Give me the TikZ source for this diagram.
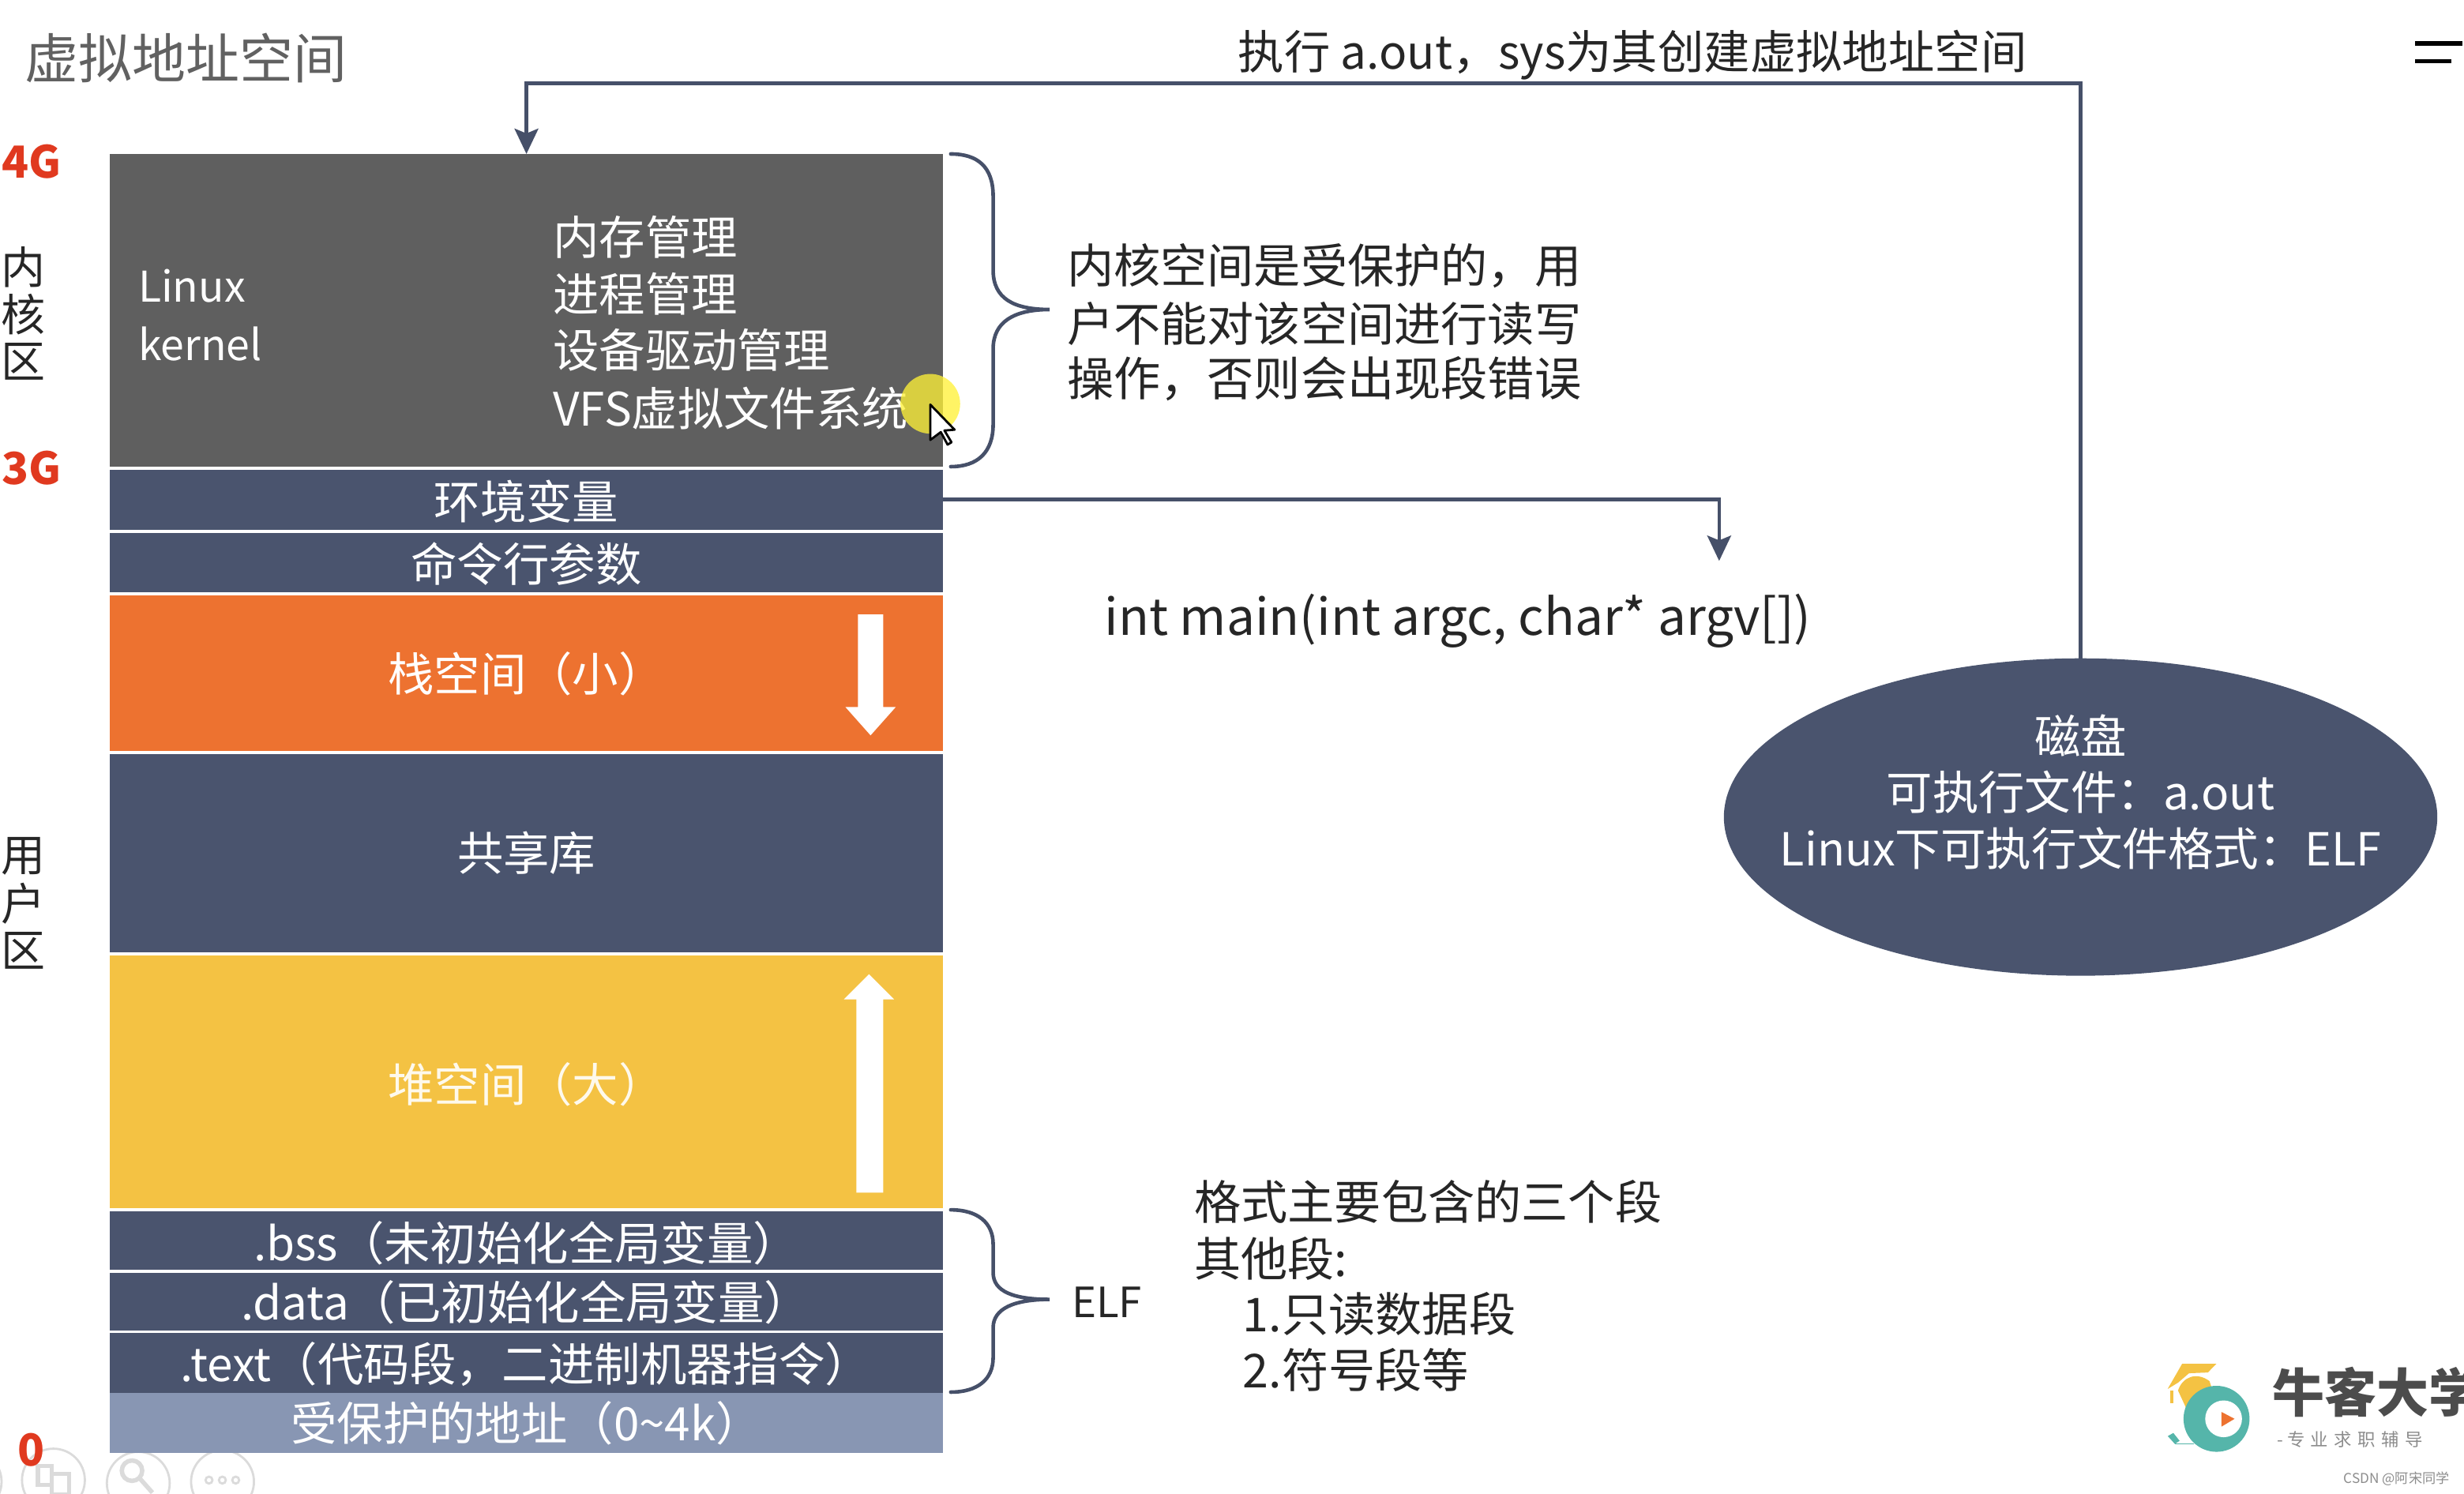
\documentclass[tikz,border=0pt]{standalone}
\usepackage{fontspec}
\setmainfont{Noto Sans CJK SC}
\usetikzlibrary{arrows.meta,shapes.geometric}
\definecolor{navy}{HTML}{4A546E}
\definecolor{kern}{HTML}{5F5F5F}
\definecolor{orng}{HTML}{ED7230}
\definecolor{yell}{HTML}{F4C243}
\definecolor{pale}{HTML}{8896B3}
\definecolor{redd}{HTML}{E0391F}
\definecolor{linec}{HTML}{465069}
\definecolor{ink}{HTML}{262626}
\definecolor{teal2}{HTML}{55B5AA}
\definecolor{spot}{RGB}{255,241,55}
\newcommand{\fs}[1]{\fontsize{#1}{#1}\selectfont}
\tikzset{
  H/.style={minimum height=#1*0.4975pt},
  seg/.style={minimum width=263.7pt,inner sep=0pt,outer sep=0pt,text=white,font=\fs{14.6}},
  lab/.style={inner sep=0pt,outer sep=0pt,anchor=west,text=ink,font=\fs{14.8}},
  wlab/.style={inner sep=0pt,outer sep=0pt,text=white,font=\fs{14.6}},
  wlabl/.style={wlab,anchor=west},
  addr/.style={inner sep=0pt,text=redd,font=\fs{14}\bfseries},
  side/.style={inner sep=0pt,text=ink,font=\fs{14}},
  conn/.style={draw=linec,line width=1.15pt},
  brace/.style={draw=linec,line width=1.15pt,line cap=round},
  tip/.style={-{Stealth[length=8pt,width=7.5pt,inset=1.5pt]}},
  toolc/.style={draw=black!14,line width=0.7pt},
}
\begin{document}
\begin{tikzpicture}[x=0.4975pt,y=-0.4975pt]
\useasboundingbox (0,0) rectangle (1568,950.7);
% toolbar remnants
\draw[toolc] (-19,943) circle (20);
\draw[toolc] (34,942) circle (20);
\draw[toolc] (88,944) circle (20);
\draw[toolc] (141.6,943) circle (20);
\draw[toolc,line width=1.4pt] (24,933) rectangle (33,945) (33,938) rectangle (44,951);
\draw[toolc,line width=1.4pt] (84,936) circle (6.5) (89,941) -- (97,950);
\foreach \d in {133,141.5,150} \draw[toolc] (\d,942) circle (2.2);
% segments
\node[seg,H=199,fill=kern] (kernel) at (335,197.5) {};
\node[seg,H=38,fill=navy] (env) at (335,318) {};
\node[seg,H=38,fill=navy] (args) at (335,358) {};
\node[seg,H=99,fill=orng] (stack) at (335,428.5) {};
\node[seg,H=126,fill=navy] (shared) at (335,543) {};
\node[seg,H=161,fill=yell] (heap) at (335,688.5) {};
\node[seg,H=37,fill=navy] (bss) at (335,789.5) {};
\node[seg,H=37,fill=navy] (data) at (335,828.5) {};
\node[seg,H=38,fill=navy] (text) at (335,867.5) {};
\node[seg,H=38,fill=pale] (prot) at (335,905.5) {};
% labels in segments
\node[wlab] (lEnv) at (335,319) {环境变量};
\node[wlab] (lArgs) at (335,359) {命令行参数};
\node[wlab] (lShared) at (335,543) {共享库};
\node[wlab] (lStack) at (335,429) {栈空间（小）};
\node[wlab,text=white!90!yell] (lHeap) at (335,690) {堆空间（大）};
\node[wlab] (lBss) at (335,791) {.bss（未初始化全局变量）};
\node[wlab] (lData) at (334.5,829) {.data（已初始化全局变量）};
\node[wlab] (lText) at (334.5,868) {.text（代码段，二进制机器指令）};
\node[wlab] (lProt) at (335,906) {受保护的地址（0\textasciitilde 4k）};
\node[wlabl,font=\fs{13.4}] (lLinux) at (88,182) {Linux};
\node[wlabl,font=\fs{13.4}] (lKernel) at (88,219) {kernel};
\node[wlabl] (k1) at (352,151) {内存管理};
\node[wlabl] (k2) at (352,187) {进程管理};
\node[wlabl] (k3) at (352,223) {设备驱动管理};
\node[wlabl] (k4) at (352,260) {VFS虚拟文件系统};
% white arrows
\fill[white] (546,391) -- (562,391) -- (562,450) -- (570,450) -- (554,468) -- (538,450) -- (546,450) -- cycle;
\fill[white] (545,759) -- (562,759) -- (562,636) -- (569,636) -- (553,620) -- (537,636) -- (545,636) -- cycle;
% title and side labels
\node[lab,text=black!62,font=\fs{17}] (title) at (16,37) {虚拟地址空间};
\node[addr] (g4) at (20,103) {4G};
\node[addr] (g3) at (20,298) {3G};
\node[side] (a1) at (15,170) {内};
\node[side] (a2) at (15,200) {核};
\node[side] (a3) at (15,230) {区};
\node[side] (b1) at (15,545) {用};
\node[side] (b2) at (15,575) {户};
\node[side] (b3) at (15,605) {区};
% right texts
\node[lab,font=\fs{14.6}] (top) at (788,35) {执行 a.out，sys为其创建虚拟地址空间};
\node[lab] (r1) at (679,169) {内核空间是受保护的，用};
\node[lab] (r2) at (679,206) {户不能对该空间进行读写};
\node[lab] (r3) at (679,241) {操作，否则会出现段错误};
\node[lab,font=\fs{16}] (mainf) at (703,395) {int main(int argc, char* argv[])};
\node[lab,font=\fs{13.2}] (elf) at (682,829) {ELF};
\node[lab] (f1) at (760,765) {格式主要包含的三个段};
\node[lab] (f2) at (760,801) {其他段:};
\node[lab] (f3) at (791,836) {1.只读数据段};
\node[lab] (f4) at (791,872) {2.符号段等};
% disk
\node[ellipse,fill=navy,minimum width=454*0.4975pt,minimum height=202*0.4975pt,inner sep=0pt,outer sep=0pt] (disk) at (1324,520) {};
\node[wlab] (d1) at (1324,468) {磁盘};
\node[wlab] (d2) at (1324,504) {可执行文件：a.out};
\node[wlab,font=\fs{14.4}] (d3) at (1324,540) {Linux下可执行文件格式：ELF};
% connectors
\coordinate (c2) at (1094,357);
\draw[conn,tip] (env.east) -| (c2);
\coordinate (c3) at (1324,53);
\coordinate (c4) at (335,53);
\draw[conn,tip] (disk.north) -- (c3) -- (c4) -- (kernel.north);
% braces
\draw[brace] (605,98) .. controls (622,98) and (632,106) .. (632,125) -- (632,172) .. controls (632,190) and (645,197) .. (668,197) .. controls (645,197) and (632,205) .. (632,222) -- (632,270) .. controls (632,288) and (622,297) .. (605,297);
\draw[brace] (605,770) .. controls (622,770) and (632,778) .. (632,792) -- (632,810) .. controls (632,822) and (645,827) .. (668,827) .. controls (645,827) and (632,833) .. (632,845) -- (632,864) .. controls (632,878) and (622,886) .. (605,886);
% cursor highlight
\fill[spot,opacity=.77] (592,257) circle (19);
\draw[black,fill=white,line width=.7pt,line join=round] (592,257.5) -- (592,280) -- (598.7,275) -- (603,283) -- (605.5,281.5) -- (601,274) -- (607.5,273.5) -- cycle;
% zero
\node[addr] (g0) at (20,923) {0};
% top right mark
\draw[black,line width=1.3pt] (1537,27.6) -- (1567,27.6);
\draw[black,line width=1.3pt] (1537,38.9) -- (1560,38.9);
% logo
\fill[yell] (1388.6,868) -- (1410.4,868) -- (1405,873.5) -- (1393,874) -- (1386,880) -- (1379.4,884) -- cycle;
\fill[yell] (1381,885) rectangle (1383,893);
\fill[yell] (1386,885) .. controls (1389,876) and (1398,873) .. (1406,879) -- (1408,885) -- (1392,898) -- cycle;
\fill[teal2] (1410.5,903) circle (21);
\fill[white] (1415,903) circle (11.7);
\fill[orng] (1413.6,898.6) -- (1422,903) -- (1413.6,908) -- cycle;
\fill[teal2] (1379.5,914) -- (1383,912) -- (1387,917) -- (1384,919) -- cycle;
\draw[teal2,line width=.4pt] (1384,919) -- (1396,919);
\node[lab,font=\fs{16.5}\bfseries,text=black!70] (brand) at (1446,886) {牛客大学};
\node[lab,font=\fs{5.6},text=black!45] (slogan) at (1449,916) {- 专\,\,业\,\,求\,\,职\,\,辅\,\,导};
\node[lab,font=\fs{4.3},text=black!45] (csdn) at (1491.5,941) {CSDN @阿宋同学};
\end{tikzpicture}
\end{document}
